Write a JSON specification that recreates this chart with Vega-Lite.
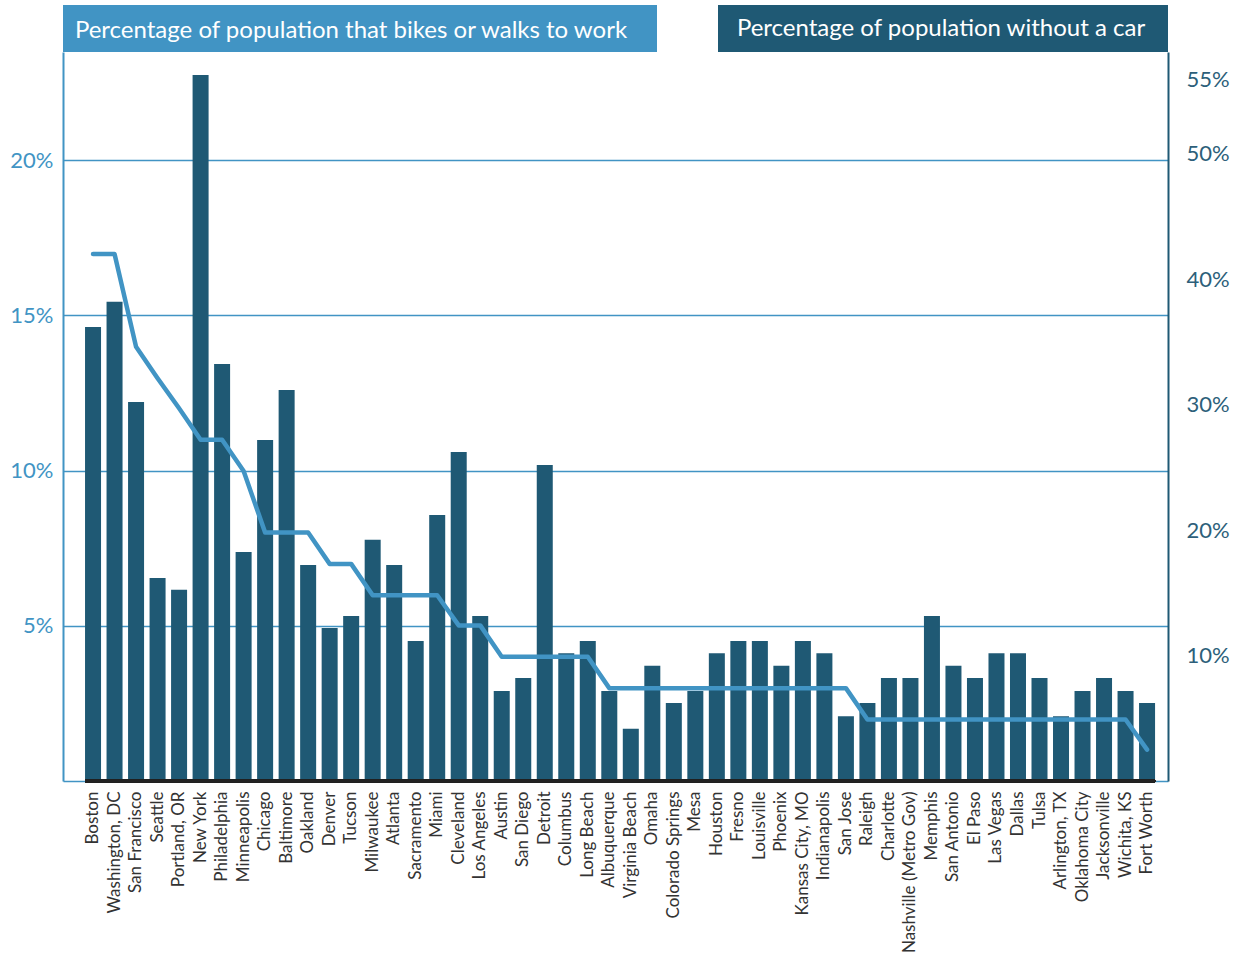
{
  "$schema": "https://vega.github.io/schema/vega-lite/v6.json",
  "padding": {"left": 9, "top": 5, "right": 5, "bottom": 5},
  "config": {"font": "Lato", "view": {"stroke": null}},
  "datasets": {
    "cities": [
      {"city": "Boston", "bike": 14.63, "nocar": 42.0},
      {"city": "Washington, DC", "bike": 15.44, "nocar": 42.0},
      {"city": "San Francisco", "bike": 12.21, "nocar": 34.6},
      {"city": "Seattle", "bike": 6.54, "nocar": 32.1},
      {"city": "Portland, OR", "bike": 6.16, "nocar": 29.7},
      {"city": "New York", "bike": 22.75, "nocar": 27.2},
      {"city": "Philadelphia", "bike": 13.44, "nocar": 27.2},
      {"city": "Minneapolis", "bike": 7.38, "nocar": 24.7},
      {"city": "Chicago", "bike": 10.99, "nocar": 19.8},
      {"city": "Baltimore", "bike": 12.6, "nocar": 19.8},
      {"city": "Oakland", "bike": 6.96, "nocar": 19.8},
      {"city": "Denver", "bike": 4.93, "nocar": 17.3},
      {"city": "Tucson", "bike": 5.32, "nocar": 17.3},
      {"city": "Milwaukee", "bike": 7.77, "nocar": 14.8},
      {"city": "Atlanta", "bike": 6.96, "nocar": 14.8},
      {"city": "Sacramento", "bike": 4.51, "nocar": 14.8},
      {"city": "Miami", "bike": 8.57, "nocar": 14.8},
      {"city": "Cleveland", "bike": 10.6, "nocar": 12.4},
      {"city": "Los Angeles", "bike": 5.32, "nocar": 12.4},
      {"city": "Austin", "bike": 2.9, "nocar": 9.9},
      {"city": "San Diego", "bike": 3.32, "nocar": 9.9},
      {"city": "Detroit", "bike": 10.18, "nocar": 9.9},
      {"city": "Columbus", "bike": 4.12, "nocar": 9.9},
      {"city": "Long Beach", "bike": 4.51, "nocar": 9.9},
      {"city": "Albuquerque", "bike": 2.9, "nocar": 7.4},
      {"city": "Virginia Beach", "bike": 1.68, "nocar": 7.4},
      {"city": "Omaha", "bike": 3.71, "nocar": 7.4},
      {"city": "Colorado Springs", "bike": 2.51, "nocar": 7.4},
      {"city": "Mesa", "bike": 2.9, "nocar": 7.4},
      {"city": "Houston", "bike": 4.12, "nocar": 7.4},
      {"city": "Fresno", "bike": 4.51, "nocar": 7.4},
      {"city": "Louisville", "bike": 4.51, "nocar": 7.4},
      {"city": "Phoenix", "bike": 3.71, "nocar": 7.4},
      {"city": "Kansas City, MO", "bike": 4.51, "nocar": 7.4},
      {"city": "Indianapolis", "bike": 4.12, "nocar": 7.4},
      {"city": "San Jose", "bike": 2.09, "nocar": 7.4},
      {"city": "Raleigh", "bike": 2.51, "nocar": 4.9},
      {"city": "Charlotte", "bike": 3.32, "nocar": 4.9},
      {"city": "Nashville (Metro Gov)", "bike": 3.32, "nocar": 4.9},
      {"city": "Memphis", "bike": 5.32, "nocar": 4.9},
      {"city": "San Antonio", "bike": 3.71, "nocar": 4.9},
      {"city": "El Paso", "bike": 3.32, "nocar": 4.9},
      {"city": "Las Vegas", "bike": 4.12, "nocar": 4.9},
      {"city": "Dallas", "bike": 4.12, "nocar": 4.9},
      {"city": "Tulsa", "bike": 3.32, "nocar": 4.9},
      {"city": "Arlington, TX", "bike": 2.09, "nocar": 4.9},
      {"city": "Oklahoma City", "bike": 2.9, "nocar": 4.9},
      {"city": "Jacksonville", "bike": 3.32, "nocar": 4.9},
      {"city": "Wichita, KS", "bike": 2.9, "nocar": 4.9},
      {"city": "Fort Worth", "bike": 2.51, "nocar": 2.5}
    ]
  },
  "bounds": "flush",
  "spacing": 47,
  "vconcat": [
    {
      "bounds": "flush",
      "spacing": 61,
      "hconcat": [
        {
          "width": 594,
          "height": 47,
          "view": {"fill": "#4194c4", "stroke": null},
          "data": {"values": [{"t": "Percentage of population that bikes or walks to work"}]},
          "mark": {"type": "text", "color": "white", "fontSize": 24, "font": "Lato", "dx": -9, "dy": 2},
          "encoding": {"text": {"field": "t", "type": "nominal"}}
        },
        {
          "width": 450,
          "height": 47,
          "view": {"fill": "#1f5974", "stroke": null},
          "data": {"values": [{"t": "Percentage of population without a car"}]},
          "mark": {"type": "text", "color": "white", "fontSize": 24, "font": "Lato", "dx": -2},
          "encoding": {"text": {"field": "t", "type": "nominal"}}
        }
      ]
    },
    {
      "width": 1105,
      "height": 729,
      "data": {"name": "cities"},
      "encoding": {
        "x": {
          "field": "city",
          "type": "nominal",
          "sort": null,
          "scale": {"paddingInner": 0.256, "paddingOuter": 0.813, "align": 0.63},
          "axis": {
            "title": null,
            "labelAngle": -90,
            "ticks": false,
            "domainColor": "#4194c4",
            "domainWidth": 1.5,
            "labelFontSize": 17,
            "labelColor": "#333333",
            "labelPadding": 10
          }
        }
      },
      "layer": [
        {
          "layer": [
            {
              "mark": {"type": "bar", "color": "#1f5974"},
              "encoding": {
                "y": {
                  "field": "bike",
                  "type": "quantitative",
                  "scale": {"domain": [0, 23.49], "nice": false},
                  "axis": {
                    "orient": "left",
                    "title": null,
                    "values": [5, 10, 15, 20],
                    "labelExpr": "datum.value + '%'",
                    "ticks": false,
                    "domainColor": "#4194c4",
                    "domainWidth": 2,
                    "gridColor": "#4194c4",
                    "gridWidth": 1.5,
                    "labelColor": "#4194c4",
                    "labelFontSize": 22,
                    "labelPadding": 10
                  }
                }
              }
            },
            {
              "mark": {"type": "rule", "color": "#222222", "strokeWidth": 2.5},
              "encoding": {
                "x": {"datum": "Boston", "type": "nominal", "bandPosition": 0},
                "x2": {"datum": "Fort Worth", "bandPosition": 1},
                "y": {"datum": 0, "type": "quantitative"}
              }
            }
          ]
        },
        {
          "mark": {"type": "line", "color": "#4194c4", "strokeWidth": 4.5, "strokeCap": "round", "strokeJoin": "round"},
          "encoding": {
            "y": {
              "field": "nocar",
              "type": "quantitative",
              "scale": {"domain": [0, 58.09], "nice": false},
              "axis": {
                "orient": "right",
                "title": null,
                "values": [10, 20, 30, 40, 50, 55],
                "labelExpr": "datum.value + '%'",
                "ticks": false,
                "domainColor": "#1f5974",
                "domainWidth": 2,
                "gridColor": "#1f5974",
                "gridWidth": 1.5,
                "gridOpacity": {"condition": {"test": "datum.value > 52", "value": 0}, "value": 1},
                "labelOffset": {"condition": {"test": "datum.value > 52", "value": -11}, "value": 0},
                "labelColor": "#2d5f7a",
                "labelFontSize": 22,
                "labelPadding": 18
              }
            }
          }
        }
      ],
      "resolve": {"scale": {"y": "independent"}}
    }
  ]
}
